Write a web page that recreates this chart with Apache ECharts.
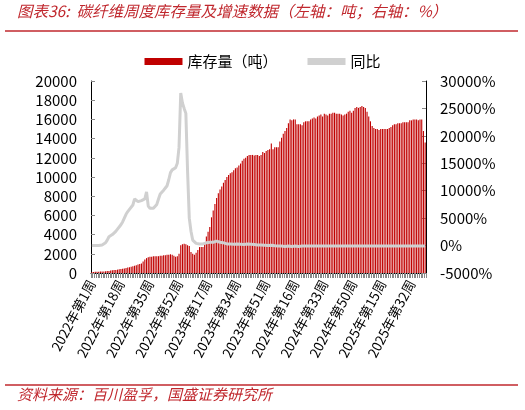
<!DOCTYPE html>
<html><head><meta charset="utf-8">
<script src="https://cdn.jsdelivr.net/npm/echarts@6/dist/echarts.min.js"></script>
<style>html,body{margin:0;padding:0;background:#fff}#c{width:525px;height:410px}</style>
</head><body><div id="c"></div>
<script>
const years = [[2022,52],[2023,52],[2024,52],[2025,40]];
const categories = [];
years.forEach(([y,n])=>{for(let w=1;w<=n;w++)categories.push(y+'年第'+w+'周');});
const stock = [
100,100,120,120,130,150,150,160,180,200,
220,250,280,300,320,350,380,420,450,480,
520,560,600,650,700,760,820,880,950,1000,
1200,1400,1550,1650,1700,1700,1750,1750,1750,1750,
1800,1800,1850,1850,1900,1900,1950,1900,1800,1700,
1750,2000,2900,3000,3050,3000,2900,2800,2200,2000,
1900,2100,2400,2700,2700,2700,3200,3800,4300,4800,
5800,6500,7200,7800,8300,8700,9000,9400,9700,10000,
10200,10400,10500,10700,10900,11000,11200,11400,11700,11900,
12000,12200,12300,12300,12300,12250,12300,12300,12200,12300,
12600,12500,12700,12800,12900,13500,12900,13100,13100,13100,
13700,14100,14500,14800,15100,15600,16000,15900,16000,16000,
15500,15500,15500,15400,15700,15800,15800,15800,16000,16100,
16200,16100,16300,16400,16500,16300,16600,16500,16400,16600,
16600,16700,16700,16600,16600,16600,16500,16400,16500,16600,
16800,16900,16700,16900,17200,17300,17200,17300,17400,17300,
17200,16800,16300,15800,15300,15100,15000,15000,14900,15000,
15000,15000,15000,15000,15100,15200,15400,15500,15500,15600,
15600,15600,15700,15700,15700,15700,15900,15900,16000,16000,
16000,15900,16000,16000,14800,13600];
const yoy = [
0,-50,0,50,0,0,100,200,500,1000,
1600,1800,2000,2300,2600,3000,3300,3800,4300,5000,
5700,6200,6600,6800,7400,8500,8300,8000,8000,8200,
8300,8500,9800,7200,6800,6700,6800,6900,7500,8500,
9400,9700,10100,10500,10900,12000,13300,13800,14000,14200,
15000,17900,27800,26000,25000,24100,13600,5000,2600,1000,
700,400,300,300,400,300,400,500,600,600,
700,600,700,800,700,600,600,500,400,300,
300,300,300,250,300,300,250,250,200,200,
200,300,300,250,300,200,100,100,200,100,
100,50,100,0,0,50,0,-50,-50,-100,
-100,-100,-150,-150,-150,-100,-150,-150,-100,-100,
-100,-150,-150,-100,-100,-100,-100,-100,-100,-100,
-100,-100,-100,-100,-100,-100,-100,-100,-100,-100,
-100,-100,-100,-100,-100,-100,-100,-100,-100,-100,
-100,-100,-100,-100,-100,-100,-100,-100,-100,-100,
-100,-100,-100,-100,-100,-100,-100,-100,-100,-100,
-100,-100,-100,-100,-100,-100,-100,-100,-100,-100,
-100,-100,-100,-100,-100,-100,-100,-100,-100,-100,
-100,-100,-100,-100,-100,-100];
const leftTicks = {min:0,max:20000,interval:2000};
const rightTicks = {min:-5000,max:30000,interval:5000};
const F = '"Noto Sans CJK SC", "Noto Sans", sans-serif';
const chart = echarts.init(document.getElementById('c'));
chart.setOption({
  animation:false,
  textStyle:{fontFamily:F},
  graphic:[
    {type:'text',left:17,top:3,style:{text:'图表36:  碳纤维周度库存量及增速数据（左轴：吨；右轴：%）',fill:'#c0282e',font:'italic 15.5px '+F}},
    {type:'line',shape:{x1:5,y1:31,x2:518,y2:31},style:{stroke:'#c0282e',lineWidth:1.5}},
    {type:'line',shape:{x1:5,y1:385,x2:518,y2:385},style:{stroke:'#c0282e',lineWidth:1.5}},
    {type:'text',left:17,top:387,style:{text:'资料来源：百川盈孚，国盛证券研究所',fill:'#c0282e',font:'italic 15px '+F}}
  ],
  legend:{top:49,left:'center',itemWidth:38,itemHeight:7,itemGap:30,textStyle:{fontSize:15,color:'#000',fontFamily:F},
    data:[{name:'库存量（吨）',icon:'rect'},{name:'同比',icon:'rect'}]},
  grid:{left:91,right:99,top:81,bottom:137},
  xAxis:{type:'category',data:categories,
    axisLine:{lineStyle:{color:'#000'}},
    axisTick:{show:true,interval:0,length:5,lineStyle:{color:'#888'}},
    axisLabel:{interval:16,rotate:62,fontSize:13.5,color:'#000',margin:8,fontFamily:F}},
  yAxis:[
    {type:'value',...leftTicks,splitLine:{show:false},axisLine:{show:true,lineStyle:{color:'#000'}},
     axisTick:{show:true,inside:true,length:4,lineStyle:{color:'#888'}},axisLabel:{fontSize:15,color:'#000',margin:14,formatter:v=>String(v)}},
    {type:'value',...rightTicks,splitLine:{show:false},axisLine:{show:true,lineStyle:{color:'#000'}},
     axisTick:{show:true,inside:true,length:4,lineStyle:{color:'#888'}},axisLabel:{fontSize:15,color:'#000',margin:14,formatter:v=>v+'%'}}
  ],
  series:[
    {name:'库存量（吨）',type:'bar',data:stock,itemStyle:{color:'#c00000'},barCategoryGap:'35%'},
    {name:'同比',type:'line',yAxisIndex:1,data:yoy,symbol:'none',lineStyle:{color:'#d0d0d0',width:3},itemStyle:{color:'#d0d0d0'}}
  ]
});
</script></body></html>
